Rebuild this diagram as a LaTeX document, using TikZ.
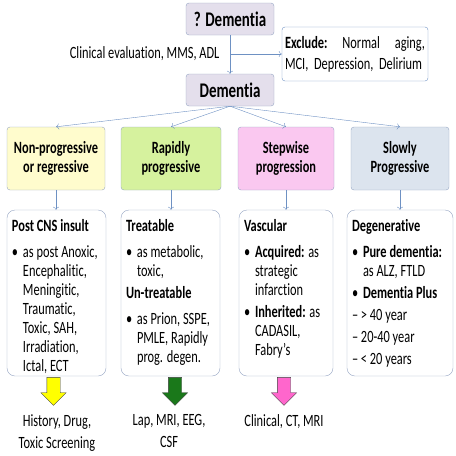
\documentclass[tikz,border=0pt]{standalone}
\usepackage{fontspec}
\setmainfont{Carlito}[FakeStretch=0.72,Ligatures={TeX,NoCommon}]
\usetikzlibrary{positioning,arrows.meta,shapes.arrows}

\definecolor{lavender}{RGB}{228,223,236}
\definecolor{boxline}{RGB}{150,165,195}
\definecolor{linkblue}{RGB}{110,145,195}
\definecolor{slowfill}{RGB}{255,252,205}
\definecolor{rapidfill}{RGB}{214,242,158}
\definecolor{stepfill}{RGB}{250,200,240}
\definecolor{degfill}{RGB}{220,228,238}
\definecolor{yellowA}{RGB}{255,255,0}
\definecolor{greenA}{RGB}{26,120,26}
\definecolor{pinkA}{RGB}{255,102,204}

\newcommand{\bitem}{\makebox[11pt][l]{\textbullet}}
\newcommand{\bcont}{\hspace*{11pt}}
\newcommand{\ditem}{\makebox[9pt][l]{–}}

\begin{document}
\begin{tikzpicture}[
  x=1pt,y=-1pt,
  every node/.style={font=\fontsize{17.2}{19}\selectfont},
  topbox/.style={draw=boxline,fill=lavender,rounded corners=3pt,minimum width=88pt,minimum height=32pt,font=\fontsize{20.8}{22}\selectfont\bfseries},
  catbox/.style={draw=boxline,rounded corners=3pt,minimum height=63pt,align=center,font=\fontsize{17.2}{19}\selectfont\bfseries},
  detbox/.style={draw=boxline,rounded corners=8pt,minimum height=166pt},
  dettext/.style={align=left,inner sep=0pt,anchor=north west},
  link/.style={draw=linkblue,-{To[length=3pt,width=6pt]}},
  fatarrow/.style={single arrow,draw=black!75,rotate=-90,anchor=tail,inner sep=6.5pt,minimum height=28pt,minimum width=25pt,single arrow head extend=6pt,single arrow tip angle=90},
  undertext/.style={align=center,anchor=north,font=\fontsize{17.2}{22}\selectfont}
]
\useasboundingbox (0,0) rectangle (456,456);

% top of the chart
\node[topbox] (q) at (230,19) {? Dementia};
\node[draw=linkblue,rounded corners=3pt,minimum width=146pt,minimum height=54pt,inner sep=3pt,text width=140pt,align=left,font=\fontsize{17.2}{21}\selectfont] (excl) at (355,54)
  {\textbf{Exclude:}\hfill Normal\hfill aging,\\ \mbox{MCI, Depression, Delirium}};
\node[topbox] (dem) at (230,90) {Dementia};
\coordinate (br) at (q.south |- excl.west);
\node[anchor=east] (clin) at ([xshift=-7pt]br) {Clinical evaluation, MMS, ADL};

\draw[link] (q) -- (dem);
\draw[link] (br) -- (excl.west);

% four courses
\node[catbox,fill=slowfill,minimum width=98pt] (c1) at (56,158.5) {Non-progressive\\or regressive};
\node[catbox,fill=rapidfill,minimum width=100pt] (c2) at (171,158.5) {Rapidly\\progressive};
\node[catbox,fill=stepfill,minimum width=96pt] (c3) at (286,158.5) {Stepwise\\progression};
\node[catbox,fill=degfill,minimum width=98pt] (c4) at (400,158.5) {Slowly\\Progressive};

\foreach \c in {c1,c2,c3,c4}
  \draw[link] (dem.south) -- (\c.north);

% causes
\node[detbox,minimum width=99pt] (d1) at (56.5,293) {};
\node[detbox,minimum width=99pt] (d2) at (170.5,293) {};
\node[detbox,minimum width=94pt] (d3) at (286,293) {};
\node[detbox,minimum width=106pt] (d4) at (400,293) {};

\foreach \c/\d in {c1/d1,c2/d2,c3/d3,c4/d4}
  \draw[link] (\c.south) -- (\c.south |- \d.north);

\node[dettext] (d1t) at ([xshift=5pt,yshift=-9.5pt]d1.north west)
  {\textbf{Post CNS insult}\\[7pt]
   \bitem as post Anoxic,\\ \bcont Encephalitic,\\ \bcont Meningitic,\\ \bcont Traumatic,\\
   \bcont Toxic, SAH,\\ \bcont Irradiation,\\ \bcont Ictal, ECT};
\node[dettext] (d2t) at ([xshift=5pt,yshift=-9.5pt]d2.north west)
  {\textbf{Treatable}\\[7pt]
   \bitem as metabolic,\\ \bcont toxic,\\[3pt]
   \textbf{Un-treatable}\\[7pt]
   \bitem as Prion, SSPE,\\ \bcont PMLE, Rapidly\\ \bcont prog. degen.};
\node[dettext] (d3t) at ([xshift=5pt,yshift=-9.5pt]d3.north west)
  {\textbf{Vascular}\\[7pt]
   \bitem \textbf{Acquired:} as\\ \bcont strategic\\ \bcont infarction\\[3pt]
   \bitem \textbf{Inherited:} as\\ \bcont CADASIL,\\ \bcont Fabry’s};
\node[dettext] (d4t) at ([xshift=5pt,yshift=-9.5pt]d4.north west)
  {\textbf{Degenerative}\\[7pt]
   \bitem \textbf{Pure dementia:}\\ \bcont as ALZ, FTLD\\[3pt]
   \bitem \textbf{Dementia Plus}\\[3pt]
   \ditem > 40 year\\[3pt] \ditem 20-40 year\\[3pt] \ditem < 20 years};

% work-up
\node[fatarrow,fill=yellowA] (a1) at ([xshift=-3pt,yshift=-1pt]d1.south) {};
\node[fatarrow,fill=greenA] (a2) at ([xshift=4.5pt,yshift=-1pt]d2.south) {};
\node[fatarrow,fill=pinkA] (a3) at ([xshift=-2pt,yshift=-1pt]d3.south) {};

\node[undertext] (t1) at ([xshift=3.5pt,yshift=-5pt]a1.tip) {History, Drug,\\Toxic Screening};
\node[undertext] (t2) at ([xshift=-6pt,yshift=-5pt]a2.tip) {Lap, MRI, EEG,\\CSF};
\node[undertext] (t3) at ([yshift=-5pt]a3.tip) {Clinical, CT, MRI};

\end{tikzpicture}
\end{document}
